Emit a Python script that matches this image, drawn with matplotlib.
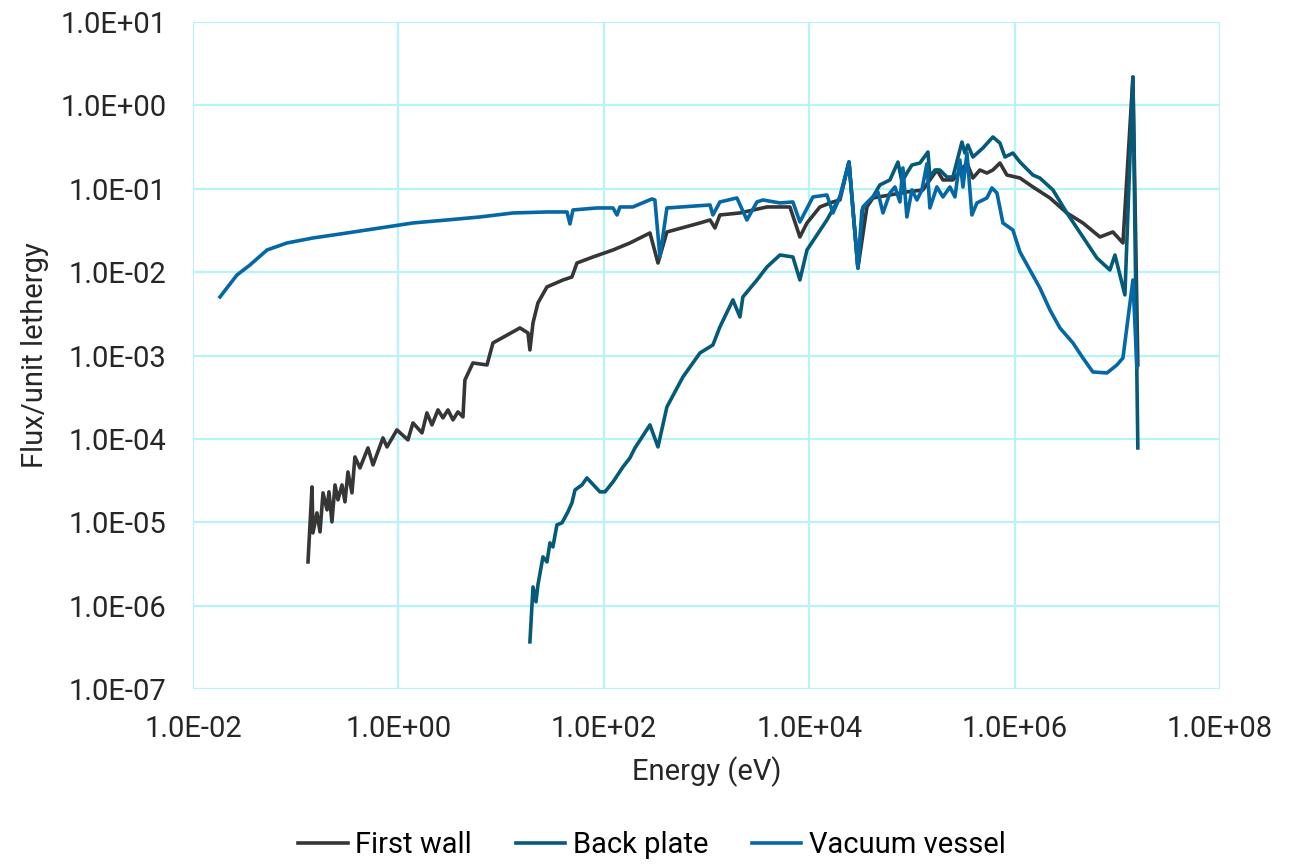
import numpy as np
import matplotlib.pyplot as plt
from matplotlib.ticker import FuncFormatter

plt.rcParams['font.family'] = ['Roboto', 'DejaVu Sans']

# log10(energy in eV) and log10(flux per unit lethargy)
fw_logE = [-0.880, -0.841, -0.832, -0.793, -0.763, -0.734, -0.695, -0.676, -0.647, -0.617,
           -0.588, -0.549, -0.520, -0.491, -0.452, -0.423, -0.374, -0.296, -0.247, -0.150,
           -0.111, -0.014, 0.093, 0.142, 0.230, 0.278, 0.327, 0.386, 0.434, 0.483,
           0.532, 0.580, 0.629, 0.648, 0.726, 0.863, 0.921, 1.184, 1.262, 1.281,
           1.311, 1.359, 1.447, 1.603, 1.690, 1.739, 1.895, 2.090, 2.255, 2.450,
           2.528, 2.615, 2.937, 3.035, 3.083, 3.131, 3.326, 3.589, 3.813, 3.910,
           3.979, 4.105, 4.232, 4.300, 4.388, 4.475, 4.563, 4.621, 4.952, 5.108,
           5.244, 5.303, 5.400, 5.537, 5.595, 5.663, 5.731, 5.789, 5.858, 5.926,
           6.053, 6.179, 6.345, 6.510, 6.666, 6.832, 6.958, 7.056, 7.153, 7.201]
fw_logF = [-5.475, -4.576, -5.127, -4.887, -5.115, -4.647, -4.851, -4.635, -4.995, -4.552,
           -4.731, -4.552, -4.755, -4.396, -4.647, -4.216, -4.348, -4.108, -4.312, -3.988,
           -4.096, -3.892, -4.012, -3.808, -3.928, -3.688, -3.832, -3.652, -3.748, -3.652,
           -3.772, -3.676, -3.736, -3.293, -3.089, -3.113, -2.849, -2.669, -2.729, -2.933,
           -2.609, -2.369, -2.177, -2.094, -2.058, -1.890, -1.818, -1.734, -1.650, -1.530,
           -1.890, -1.518, -1.410, -1.374, -1.470, -1.314, -1.290, -1.218, -1.218, -1.578,
           -1.410, -1.218, -1.158, -1.134, -0.679, -1.950, -1.218, -1.110, -1.038, -1.014,
           -0.775, -0.894, -0.894, -0.691, -0.871, -0.775, -0.811, -0.775, -0.691, -0.835,
           -0.871, -0.978, -1.110, -1.290, -1.410, -1.578, -1.518, -1.650, 0.340, -3.113]

bp_logE = [1.281, 1.311, 1.340, 1.359, 1.408, 1.447, 1.476, 1.505, 1.544, 1.593,
           1.651, 1.690, 1.720, 1.788, 1.836, 1.963, 2.012, 2.090, 2.187, 2.255,
           2.304, 2.450, 2.528, 2.615, 2.771, 2.937, 3.063, 3.131, 3.258, 3.326,
           3.355, 3.492, 3.589, 3.716, 3.842, 3.910, 3.979, 4.173, 4.300, 4.388,
           4.475, 4.524, 4.621, 4.689, 4.787, 4.865, 4.904, 4.952, 5.001, 5.079,
           5.157, 5.176, 5.225, 5.274, 5.342, 5.400, 5.488, 5.517, 5.546, 5.595,
           5.692, 5.789, 5.858, 5.907, 5.984, 6.053, 6.179, 6.247, 6.374, 6.510,
           6.705, 6.802, 6.929, 6.978, 7.075, 7.153, 7.201]
bp_logF = [-6.434, -5.775, -5.954, -5.751, -5.415, -5.475, -5.247, -5.295, -5.031, -5.007,
           -4.875, -4.767, -4.612, -4.552, -4.468, -4.635, -4.635, -4.516, -4.336, -4.228,
           -4.108, -3.832, -4.096, -3.616, -3.257, -2.969, -2.873, -2.657, -2.333, -2.537,
           -2.297, -2.094, -1.938, -1.794, -1.818, -2.094, -1.734, -1.374, -1.098, -0.679,
           -1.950, -1.218, -1.098, -0.954, -0.894, -0.679, -0.918, -0.811, -0.715, -0.691,
           -0.559, -0.859, -0.775, -0.775, -0.859, -0.859, -0.439, -0.571, -0.475, -0.619,
           -0.511, -0.379, -0.451, -0.619, -0.571, -0.679, -0.835, -0.871, -1.014, -1.290,
           -1.650, -1.830, -1.974, -1.794, -2.273, 0.340, -4.108]

vv_logE = [-1.737, -1.572, -1.445, -1.279, -1.085, -0.832, -0.500, -0.179, 0.142, 0.473,
           0.795, 1.116, 1.447, 1.642, 1.671, 1.700, 1.934, 2.090, 2.129, 2.158,
           2.284, 2.469, 2.498, 2.547, 2.615, 3.035, 3.063, 3.131, 3.297, 3.394,
           3.492, 3.550, 3.716, 3.842, 3.910, 4.037, 4.173, 4.232, 4.300, 4.388,
           4.475, 4.514, 4.563, 4.621, 4.670, 4.719, 4.787, 4.836, 4.884, 4.913,
           4.952, 5.001, 5.050, 5.098, 5.147, 5.176, 5.244, 5.303, 5.371, 5.420,
           5.468, 5.498, 5.537, 5.585, 5.634, 5.731, 5.780, 5.829, 5.887, 5.984,
           6.053, 6.150, 6.247, 6.345, 6.442, 6.569, 6.666, 6.763, 6.900, 6.997,
           7.056, 7.153, 7.192]
vv_logF = [-2.297, -2.034, -1.914, -1.734, -1.650, -1.590, -1.530, -1.470, -1.410, -1.374,
           -1.338, -1.290, -1.278, -1.278, -1.422, -1.254, -1.230, -1.230, -1.314, -1.218,
           -1.218, -1.122, -1.134, -1.818, -1.230, -1.194, -1.314, -1.158, -1.110, -1.374,
           -1.158, -1.134, -1.170, -1.158, -1.398, -1.098, -1.074, -1.290, -1.098, -0.679,
           -1.950, -1.254, -1.170, -1.098, -1.038, -1.290, -1.050, -0.978, -1.158, -0.750,
           -1.338, -1.014, -1.134, -1.014, -0.700, -1.230, -0.978, -1.098, -0.978, -1.098,
           -0.655, -0.978, -0.571, -1.314, -1.170, -1.110, -0.990, -1.050, -1.410, -1.494,
           -1.758, -1.974, -2.189, -2.453, -2.669, -2.849, -3.029, -3.197, -3.209, -3.113,
           -3.029, -2.094, -3.149]

labels = ["First wall", "Back plate", "Vacuum vessel"]
colors = ["#363636", "#045a78", "#0568a6"]
x_ticks = [1e-2, 1e0, 1e2, 1e4, 1e6, 1e8]
y_ticks = [1e-7, 1e-6, 1e-5, 1e-4, 1e-3, 1e-2, 1e-1, 1e0, 1e1]

fig = plt.figure(figsize=(13.04, 8.64), dpi=100)
ax = fig.add_axes([0.148, 0.2025, 0.7875, 0.772])

series = [(fw_logE, fw_logF), (bp_logE, bp_logF), (vv_logE, vv_logF)]
for (le, lf), lab, c in zip(series, labels, colors):
    ax.plot(10 ** np.array(le), 10 ** np.array(lf), color=c, lw=2.6, label=lab)

ax.set_xscale("log")
ax.set_yscale("log")
ax.set_xlim(1e-2, 1e8)
ax.set_ylim(1e-7, 1e1)
ax.set_xticks(x_ticks)
ax.set_yticks(y_ticks)
ax.minorticks_off()
fmt = FuncFormatter(lambda v, p: f"{v:.1E}")
ax.xaxis.set_major_formatter(fmt)
ax.yaxis.set_major_formatter(fmt)

ax.grid(True, color="#b8f3f8", lw=1.6)
ax.set_axisbelow(True)
for s in ax.spines.values():
    s.set_visible(False)
ax.tick_params(length=0, labelsize=21, colors="#262626")
ax.tick_params(axis="y", pad=19)
ax.tick_params(axis="x", pad=19)

ax.set_xlabel("Energy (eV)", fontsize=21, color="#262626")
ax.set_ylabel("Flux/unit lethergy", fontsize=21, color="#262626")
ax.xaxis.set_label_coords(0.5, -0.101)
ax.yaxis.set_label_coords(-0.14, 0.5)

fig.legend(loc="center", bbox_to_anchor=(0.5, 0.022), ncol=3, frameon=False,
           fontsize=21, handlelength=1.7, handletextpad=0.25, columnspacing=1.5)

fig.savefig("out.png", dpi=100)
